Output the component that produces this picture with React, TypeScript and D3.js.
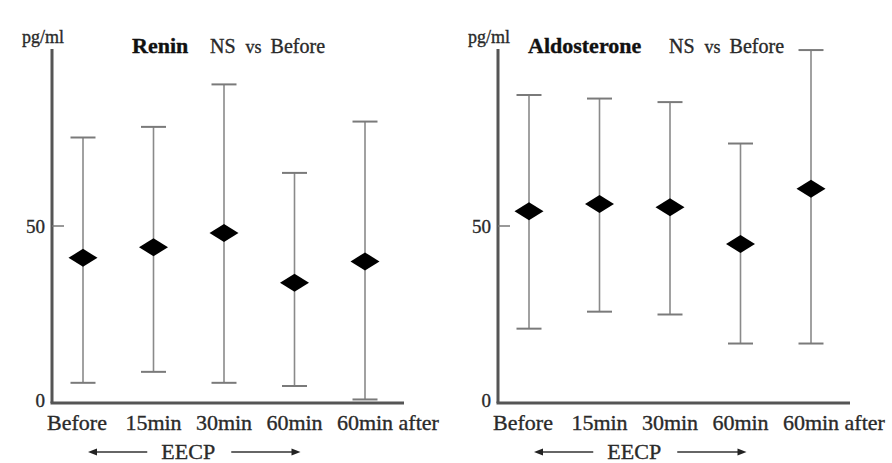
import { useRef, useEffect } from "react";
import * as d3 from "d3";

const categories = ["Before", "15min", "30min", "60min", "60min after"];

const reninMean = [41, 44, 48, 34, 40];
const reninHigh = [75, 78, 90, 65, 79.5];
const reninLow = [5.7, 8.8, 5.7, 4.8, 1];

const aldoMean = [54.2, 56.2, 55.3, 44.9, 60.5];
const aldoHigh = [87, 86, 85, 73.3, 99.7];
const aldoLow = [21, 25.8, 25, 16.8, 16.8];

const yTicks = [0, 50];

const panels = [
  { title: "Renin", mean: reninMean, high: reninHigh, low: reninLow, left: 52, titleX: 132, subX: 210 },
  { title: "Aldosterone", mean: aldoMean, high: aldoHigh, low: aldoLow, left: 498, titleX: 528, subX: 669 },
];

const W = 892;
const H = 463;
const FONT = "'Liberation Serif', 'Times New Roman', serif";

const App = () => {
  const svgRef = useRef<SVGSVGElement>(null);

  useEffect(() => {
    const svg = d3.select(svgRef.current);
    svg.selectAll("*").remove();

    const y = d3.scaleLinear().domain([0, 100]).range([403, 49]);

    const txt = (g: any, x: number, yy: number, size: number, s: string) =>
      g.append("text")
        .attr("x", x).attr("y", yy)
        .style("font-family", FONT)
        .style("font-size", `${size}px`)
        .attr("fill", "#2a2a2a")
        .attr("stroke", "#2a2a2a")
        .attr("stroke-width", 0.35)
        .text(s);

    panels.forEach((p) => {
      const g = svg.append("g");
      const axisRight = p.left + 352;
      const x = d3
        .scalePoint<string>()
        .domain(categories)
        .range([p.left + 31, p.left + 313]);

      // error bars
      categories.forEach((c, i) => {
        const cx = x(c)!;
        g.append("line")
          .attr("x1", cx).attr("x2", cx)
          .attr("y1", y(p.high[i])).attr("y2", y(p.low[i]))
          .attr("stroke", "#8a8a8a").attr("stroke-width", 1.6);
        [p.high[i], p.low[i]].forEach((v) => {
          g.append("line")
            .attr("x1", cx - 12.5).attr("x2", cx + 12.5)
            .attr("y1", y(v)).attr("y2", y(v))
            .attr("stroke", "#7a7a7a").attr("stroke-width", 2);
        });
      });

      // axes
      g.append("line")
        .attr("x1", p.left).attr("x2", p.left)
        .attr("y1", y(100)).attr("y2", y(0))
        .attr("stroke", "#555").attr("stroke-width", 3);
      g.append("line")
        .attr("x1", p.left - 1.5).attr("x2", axisRight)
        .attr("y1", y(0)).attr("y2", y(0))
        .attr("stroke", "#555").attr("stroke-width", 3);

      yTicks.forEach((t) => {
        if (t > 0) {
          g.append("line")
            .attr("x1", p.left).attr("x2", p.left + 12)
            .attr("y1", y(t)).attr("y2", y(t))
            .attr("stroke", "#777").attr("stroke-width", 1.5);
        }
        txt(g, p.left - 7, y(t) + (t === 0 ? 4 : 7), 19, String(t)).attr("text-anchor", "end");
      });

      // means (diamonds)
      categories.forEach((c, i) => {
        const cx = x(c)!;
        const cy = y(p.mean[i]);
        g.append("path")
          .attr("d", `M${cx - 14.5},${cy}L${cx},${cy - 9}L${cx + 14.5},${cy}L${cx},${cy + 9}Z`)
          .attr("fill", "#000");
      });

      // category labels: first word centred on the category
      categories.forEach((c, i) => {
        const first = c.split(" ")[0];
        const t = txt(g, 0, 430, 22, first);
        const w = (t.node() as SVGTextElement).getComputedTextLength();
        t.attr("x", x(c)! - w / 2 - (i === 0 ? 6 : 0)).text(c);
      });

      // EECP
      const xs = x(categories[0])!;
      const xe = x(categories[3])!;
      const mid = (xs + xe) / 2 - 0.5;
      txt(g, mid, 459, 22, "EECP").attr("text-anchor", "middle");
      const ay = 452;
      g.append("line").attr("x1", xs + 10).attr("x2", mid - 41).attr("y1", ay).attr("y2", ay)
        .attr("stroke", "#333").attr("stroke-width", 1.3);
      g.append("path").attr("d", `M${xs + 5},${ay}L${xs + 14},${ay - 3.5}L${xs + 14},${ay + 3.5}Z`).attr("fill", "#222");
      g.append("line").attr("x1", mid + 43).attr("x2", xe - 2).attr("y1", ay).attr("y2", ay)
        .attr("stroke", "#333").attr("stroke-width", 1.3);
      g.append("path").attr("d", `M${xe + 6},${ay}L${xe - 3},${ay - 3.5}L${xe - 3},${ay + 3.5}Z`).attr("fill", "#222");

      // unit + titles
      txt(g, p.left - 9, 43, 18, "pg/ml").attr("text-anchor", "middle");
      txt(g, p.titleX, 53, 22, p.title)
        .style("font-weight", "bold")
        .attr("fill", "#111")
        .attr("stroke", "#111");
      const sub = txt(g, p.subX, 53, 20, "");
      sub.append("tspan").text("NS");
      sub.append("tspan").attr("dx", 10).style("font-size", "18px").text("vs");
      sub.append("tspan").attr("dx", 9).text("Before");
    });
  }, []);

  return (
    <>
      <style>{`body{margin:0;background:#fff}`}</style>
      <svg ref={svgRef} width={W} height={H} style={{ display: "block" }}></svg>
    </>
  );
};

export default App;
